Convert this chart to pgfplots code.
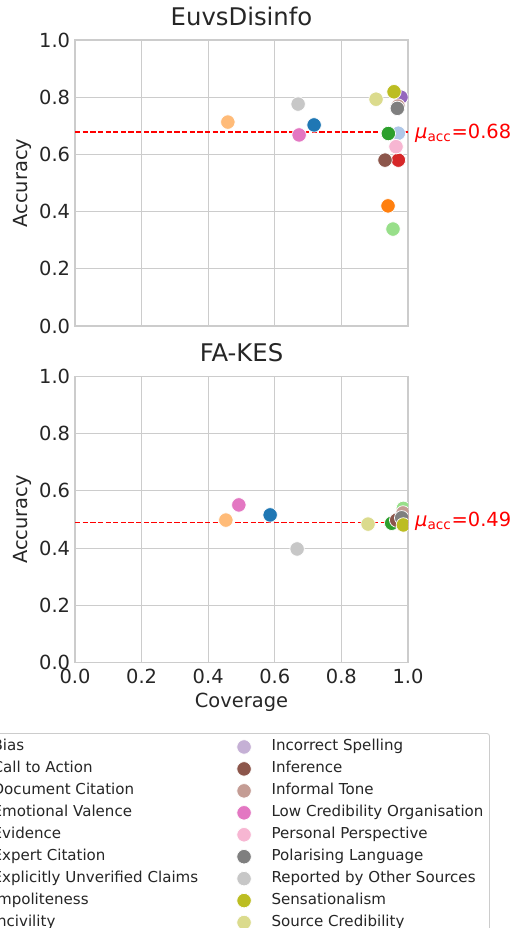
\documentclass[border=0pt]{standalone}
\usepackage{fontspec}
\setmainfont{DejaVu Sans}
\usepackage{pgfplots}
\pgfplotsset{compat=1.18}
\definecolor{c0}{HTML}{1F77B4}
\definecolor{c1}{HTML}{AEC7E8}
\definecolor{c2}{HTML}{FF7F0E}
\definecolor{c3}{HTML}{FFBB78}
\definecolor{c4}{HTML}{2CA02C}
\definecolor{c5}{HTML}{98DF8A}
\definecolor{c6}{HTML}{D62728}
\definecolor{c7}{HTML}{FF9896}
\definecolor{c8}{HTML}{9467BD}
\definecolor{c9}{HTML}{C5B0D5}
\definecolor{c10}{HTML}{8C564B}
\definecolor{c11}{HTML}{C49C94}
\definecolor{c12}{HTML}{E377C2}
\definecolor{c13}{HTML}{F7B6D2}
\definecolor{c14}{HTML}{7F7F7F}
\definecolor{c15}{HTML}{C7C7C7}
\definecolor{c16}{HTML}{BCBD22}
\definecolor{c17}{HTML}{DBDB8D}
\definecolor{tickc}{HTML}{262626}
\definecolor{gridc}{HTML}{CCCCCC}
\definecolor{mred}{HTML}{FF0000}
\pgfplotsset{
  pt/.style={only marks, mark=*, mark size=5.2pt, mark options={draw=white, fill=#1, line width=0.5pt}},
  lg/.style={only marks, mark=*, mark size=5.2pt, draw=white, fill=#1, line width=0.5pt},
  meantick/.style={extra y ticks={#1}, extra y tick labels={},
    extra y tick style={grid=major, major grid style={draw=mred, line width=1.15pt, dash pattern=on 3.8pt off 1.7pt}}},
  base/.style={
    scale only axis, width=239.76pt, height=205.92pt,
    xmin=0, xmax=1, ymin=0, ymax=1,
    xtick={0,0.2,0.4,0.6,0.8,1}, ytick={0,0.2,0.4,0.6,0.8,1},
    grid=major, major grid style={gridc, line width=0.72pt},
    axis line style={gridc, line width=0.9pt},
    major tick length=0pt,
    /pgf/number format/assume math mode=true,
    tick label style={font=\fontsize{14}{16}\selectfont, text=tickc},
    xticklabel style={/pgf/number format/fixed, /pgf/number format/fixed zerofill, /pgf/number format/precision=1, yshift=-1.5pt},
    yticklabel style={/pgf/number format/fixed, /pgf/number format/fixed zerofill, /pgf/number format/precision=1},
    label style={font=\fontsize{14}{16}\selectfont, text=tickc},
    title style={font=\fontsize{17.5}{20}\selectfont, text=tickc, at={(0.5,1)}, anchor=base, yshift=4.7pt},
    ylabel={Accuracy},
    ylabel style={at={(axis description cs:-0.1592,0.5)}, anchor=center},
    clip marker paths=true,
  },
}
\begin{document}
\begin{tikzpicture}
\begin{axis}[base, at={(54pt,-28.8pt)}, anchor=north west,
  title={EuvsDisinfo}, xticklabels={}, meantick=0.678,
  after end axis/.code={\node[anchor=base west, inner sep=0pt, text=mred, font=\fontsize{14}{16}\selectfont] at ([xshift=5pt,yshift=-5.1pt]axis cs:1,0.68) {\textit{μ}\textsubscript{acc}=0.68};}]
\addplot[pt=c0] coordinates {(0.718,0.703)};
\addplot[pt=c1] coordinates {(0.971,0.674)};
\addplot[pt=c2] coordinates {(0.940,0.420)};
\addplot[pt=c3] coordinates {(0.459,0.713)};
\addplot[pt=c4] coordinates {(0.941,0.673)};
\addplot[pt=c5] coordinates {(0.955,0.339)};
\addplot[pt=c6] coordinates {(0.971,0.580)};
\addplot[pt=c7] coordinates {(0.964,0.627)};
\addplot[pt=c8] coordinates {(0.979,0.800)};
\addplot[pt=c9] coordinates {(0.967,0.761)};
\addplot[pt=c10] coordinates {(0.931,0.580)};
\addplot[pt=c11] coordinates {(0.970,0.769)};
\addplot[pt=c12] coordinates {(0.673,0.668)};
\addplot[pt=c13] coordinates {(0.964,0.627)};
\addplot[pt=c14] coordinates {(0.968,0.761)};
\addplot[pt=c15] coordinates {(0.670,0.776)};
\addplot[pt=c16] coordinates {(0.958,0.819)};
\addplot[pt=c17] coordinates {(0.904,0.793)};
\end{axis}
\begin{axis}[base, at={(54pt,-271.08pt)}, anchor=north west,
  title={FA-KES}, xlabel={Coverage}, meantick=0.49,
  xlabel style={at={(axis description cs:0.5,0)}, anchor=base, yshift=-32.4pt},
  legend cell align=left,
  legend image code/.code={\path[draw=none, fill=none] (-11pt,-4pt) rectangle (11pt,4pt); \draw[#1] plot coordinates {(0pt,0pt)};},
  legend columns=2,
  legend style={at={(axis description cs:1.2462,-0.2465)}, anchor=north east,
    font=\fontsize{10.85}{13}\selectfont, text=tickc, draw=gridc, line width=0.6pt,
    rounded corners=2pt, inner xsep=4.4pt, inner ysep=4.4pt,
    nodes={inner sep=0pt, text height=8.1pt, text depth=2.6pt},
    row sep=5.1pt,
    /tikz/every odd column/.style={column sep=8.8pt},
    /tikz/every even column/.style={column sep=22pt}},
  after end axis/.code={\node[anchor=base west, inner sep=0pt, text=mred, font=\fontsize{14}{16}\selectfont] at ([xshift=5pt,yshift=-2.9pt]axis cs:1,0.49) {\textit{μ}\textsubscript{acc}=0.49};}]
\addlegendimage{lg=c0}\addlegendentry{Bias}
\addlegendimage{lg=c9}\addlegendentry{Incorrect Spelling}
\addlegendimage{lg=c1}\addlegendentry{Call to Action}
\addlegendimage{lg=c10}\addlegendentry{Inference}
\addlegendimage{lg=c2}\addlegendentry{Document Citation}
\addlegendimage{lg=c11}\addlegendentry{Informal Tone}
\addlegendimage{lg=c3}\addlegendentry{Emotional Valence}
\addlegendimage{lg=c12}\addlegendentry{Low Credibility Organisation}
\addlegendimage{lg=c4}\addlegendentry{Evidence}
\addlegendimage{lg=c13}\addlegendentry{Personal Perspective}
\addlegendimage{lg=c5}\addlegendentry{Expert Citation}
\addlegendimage{lg=c14}\addlegendentry{Polarising Language}
\addlegendimage{lg=c6}\addlegendentry{Explicitly Unverified Claims}
\addlegendimage{lg=c15}\addlegendentry{Reported by Other Sources}
\addlegendimage{lg=c7}\addlegendentry{Impoliteness}
\addlegendimage{lg=c16}\addlegendentry{Sensationalism}
\addlegendimage{lg=c8}\addlegendentry{Incivility}
\addlegendimage{lg=c17}\addlegendentry{Source Credibility}
\addplot[pt=c0, forget plot] coordinates {(0.586,0.516)};
\addplot[pt=c1, forget plot] coordinates {(1.0,0.500)};
\addplot[pt=c2, forget plot] coordinates {(1.0,0.490)};
\addplot[pt=c3, forget plot] coordinates {(0.453,0.498)};
\addplot[pt=c4, forget plot] coordinates {(0.951,0.487)};
\addplot[pt=c5, forget plot] coordinates {(0.986,0.539)};
\addplot[pt=c6, forget plot] coordinates {(0.985,0.516)};
\addplot[pt=c7, forget plot] coordinates {(1.0,0.510)};
\addplot[pt=c8, forget plot] coordinates {(1.0,0.510)};
\addplot[pt=c9, forget plot] coordinates {(1.0,0.500)};
\addplot[pt=c10, forget plot] coordinates {(0.966,0.498)};
\addplot[pt=c11, forget plot] coordinates {(0.985,0.523)};
\addplot[pt=c12, forget plot] coordinates {(0.492,0.551)};
\addplot[pt=c13, forget plot] coordinates {(1.0,0.490)};
\addplot[pt=c14, forget plot] coordinates {(0.981,0.506)};
\addplot[pt=c15, forget plot] coordinates {(0.667,0.397)};
\addplot[pt=c16, forget plot] coordinates {(0.986,0.481)};
\addplot[pt=c17, forget plot] coordinates {(0.880,0.484)};
\end{axis}
\pgfresetboundingbox
\useasboundingbox (0,0) rectangle (374.4pt,-668.16pt);
\end{tikzpicture}
\end{document}
